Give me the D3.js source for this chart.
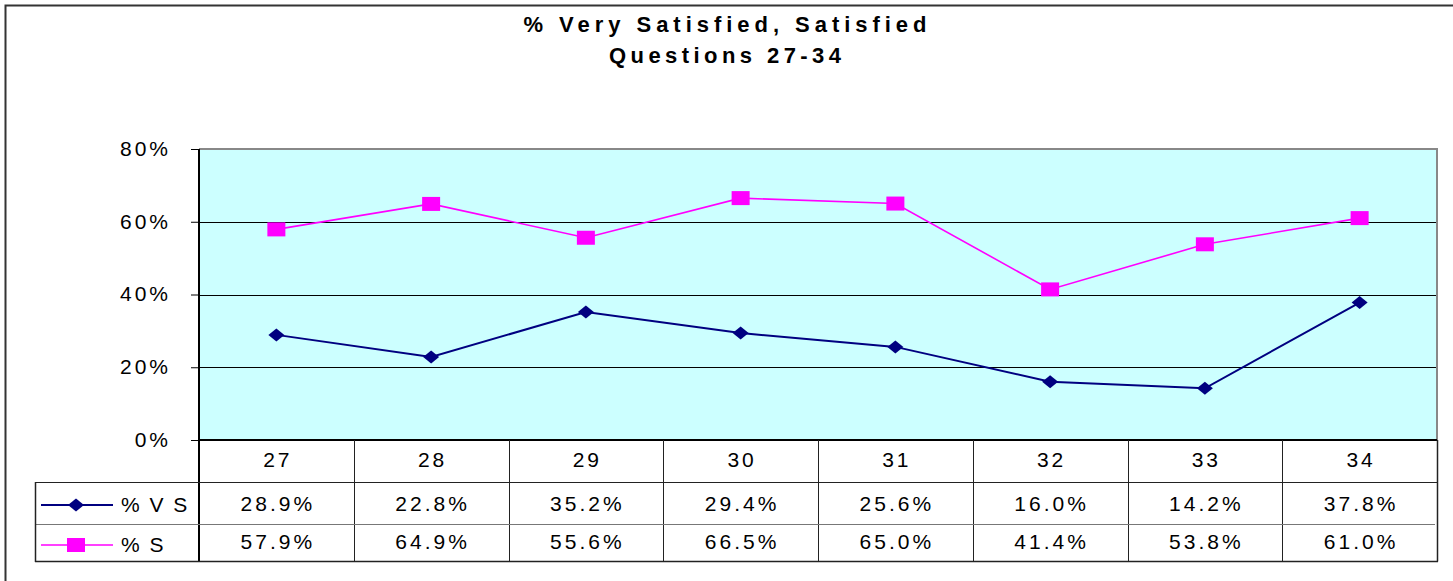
<!DOCTYPE html>
<html><head><meta charset="utf-8">
<script src="https://cdn.jsdelivr.net/npm/d3@7"></script>
<style>
html,body{margin:0;padding:0;background:#fff;}
svg{display:block;font-family:"Liberation Sans",Arial,sans-serif;}
</style></head>
<body>
<svg id="chart" width="1453" height="581"></svg>
<script>
const categories = ["27","28","29","30","31","32","33","34"];
const seriesNames = ["% V S","% S"];
const vsValues = [28.9,22.8,35.2,29.4,25.6,16.0,14.2,37.8];
const sValues  = [57.9,64.9,55.6,66.5,65.0,41.4,53.8,61.0];
const yTicks = [0,20,40,60,80];
const titleLines = ["% Very Satisfied, Satisfied","Questions 27-34"];

const svg = d3.select("#chart");
const L=199, R=1437, T=149, B=440;
const rowH=[482,524,561];
const legendLeft=35;
const FS=21, LS="3px";

// outer border
svg.append("rect").attr("x",5.5).attr("y",5.5).attr("width",1460).attr("height",600)
  .attr("fill","none").attr("stroke","#333").attr("stroke-width",2);

// title
const tw=[403,232];
titleLines.forEach((t,i)=>{
  svg.append("text").attr("x",725 - tw[i]/2).attr("y",32+i*31)
    .attr("textLength",tw[i]).attr("lengthAdjust","spacing")
    .attr("font-size",22).attr("font-weight","bold").attr("fill","#000").text(t);
});

const x = d3.scaleBand().domain(categories).range([L,R]).padding(0);
const y = d3.scaleLinear().domain([0,80]).range([B,T]);
const cx = d => x(d)+x.bandwidth()/2;

// plot background
svg.append("rect").attr("x",L).attr("y",T).attr("width",R-L).attr("height",B-T).attr("fill","#CCFFFF");
// gridlines
svg.append("g").selectAll("line").data(yTicks.filter(v=>v>0&&v<80)).join("line")
  .attr("x1",L).attr("x2",R).attr("y1",d=>Math.round(y(d))+0.5).attr("y2",d=>Math.round(y(d))+0.5)
  .attr("stroke","#000").attr("stroke-width",1);
// plot frame top/right gray
svg.append("path").attr("d",`M${L},${T} H${R} V${B}`).attr("fill","none").attr("stroke","#888").attr("stroke-width",2);

// y axis
const yAxis = d3.axisLeft(y).tickValues(yTicks).tickFormat(d=>d+"%").tickSize(8).tickPadding(20);
const gy = svg.append("g").attr("transform",`translate(${L},0)`).call(yAxis);
gy.select(".domain").remove();
gy.selectAll(".tick line").attr("stroke","#000");
gy.selectAll(".tick text").attr("font-size",FS).attr("letter-spacing",LS)
  .attr("font-family","Liberation Sans, Arial, sans-serif").attr("fill","#000").attr("dy","0.3em");

// lines
const line = d3.line().x((d,i)=>cx(categories[i])).y(d=>y(d));
svg.append("path").datum(vsValues).attr("d",line).attr("fill","none").attr("stroke","#000080").attr("stroke-width",2);
svg.append("path").datum(sValues).attr("d",line).attr("fill","none").attr("stroke","#FF00FF").attr("stroke-width",1.6);

// markers
const diamond = (cxv,cyv,w,h)=>`M${cxv},${cyv-h/2} L${cxv+w/2},${cyv} L${cxv},${cyv+h/2} L${cxv-w/2},${cyv} Z`;
svg.append("g").selectAll("path").data(vsValues).join("path")
  .attr("d",(d,i)=>diamond(cx(categories[i]),y(d),16,13)).attr("fill","#000080");
svg.append("g").selectAll("rect").data(sValues).join("rect")
  .attr("x",(d,i)=>cx(categories[i])-9).attr("y",d=>y(d)-7).attr("width",18).attr("height",14)
  .attr("fill","#FF00FF");

// table grid
const g = svg.append("g").attr("fill","none");
g.append("line").attr("x1",L).attr("x2",R).attr("y1",B).attr("y2",B).attr("stroke","#000").attr("stroke-width",2);
g.append("line").attr("x1",L).attr("x2",L).attr("y1",T).attr("y2",rowH[2]).attr("stroke","#000").attr("stroke-width",2);
g.selectAll("line.col").data(categories.slice(1)).join("line").attr("class","col")
  .attr("x1",d=>Math.round(x(d))+0.5).attr("x2",d=>Math.round(x(d))+0.5)
  .attr("y1",B).attr("y2",rowH[2]).attr("stroke","#222").attr("stroke-width",1);
g.append("line").attr("x1",R+0.5).attr("x2",R+0.5).attr("y1",B).attr("y2",rowH[2]+0.5).attr("stroke","#222").attr("stroke-width",1.5);
g.append("line").attr("x1",legendLeft).attr("x2",R).attr("y1",rowH[0]+0.5).attr("y2",rowH[0]+0.5).attr("stroke","#222");
g.append("line").attr("x1",legendLeft).attr("x2",R-2).attr("y1",rowH[1]+0.5).attr("y2",rowH[1]+0.5).attr("stroke","#777");
g.append("line").attr("x1",legendLeft).attr("x2",R+1).attr("y1",rowH[2]+0.5).attr("y2",rowH[2]+0.5).attr("stroke","#222").attr("stroke-width",1.5);
g.append("line").attr("x1",legendLeft+0.5).attr("x2",legendLeft+0.5).attr("y1",rowH[0]).attr("y2",rowH[2]+1).attr("stroke","#222").attr("stroke-width",1.5);

// table text
const txt = svg.append("g").attr("font-size",FS).attr("letter-spacing",LS).attr("fill","#000").attr("text-anchor","middle");
txt.selectAll("text.cat").data(categories).join("text").attr("class","cat")
  .attr("x",d=>cx(d)+1.5).attr("y",467).text(d=>d);
txt.selectAll("text.vs").data(vsValues).join("text").attr("class","vs")
  .attr("x",(d,i)=>cx(categories[i])+1.5).attr("y",511).text(d=>d.toFixed(1)+"%");
txt.selectAll("text.s").data(sValues).join("text").attr("class","s")
  .attr("x",(d,i)=>cx(categories[i])+1.5).attr("y",549).text(d=>d.toFixed(1)+"%");

// legend
const legY=[505,545];
const legColors=["#000080","#FF00FF"];
seriesNames.forEach((nm,i)=>{
  svg.append("line").attr("x1",41).attr("x2",113).attr("y1",legY[i]).attr("y2",legY[i])
    .attr("stroke",legColors[i]).attr("stroke-width",i===0?2:1.6);
  if(i===0) svg.append("path").attr("d",diamond(76,legY[i],16,13)).attr("fill",legColors[i]);
  else svg.append("rect").attr("x",67).attr("y",legY[i]-7).attr("width",18).attr("height",14).attr("fill",legColors[i]);
  svg.append("text").attr("x",121).attr("y",legY[i]+7).attr("font-size",FS).attr("letter-spacing","2px")
    .attr("fill","#000").text(nm);
});
</script>
</body></html>
